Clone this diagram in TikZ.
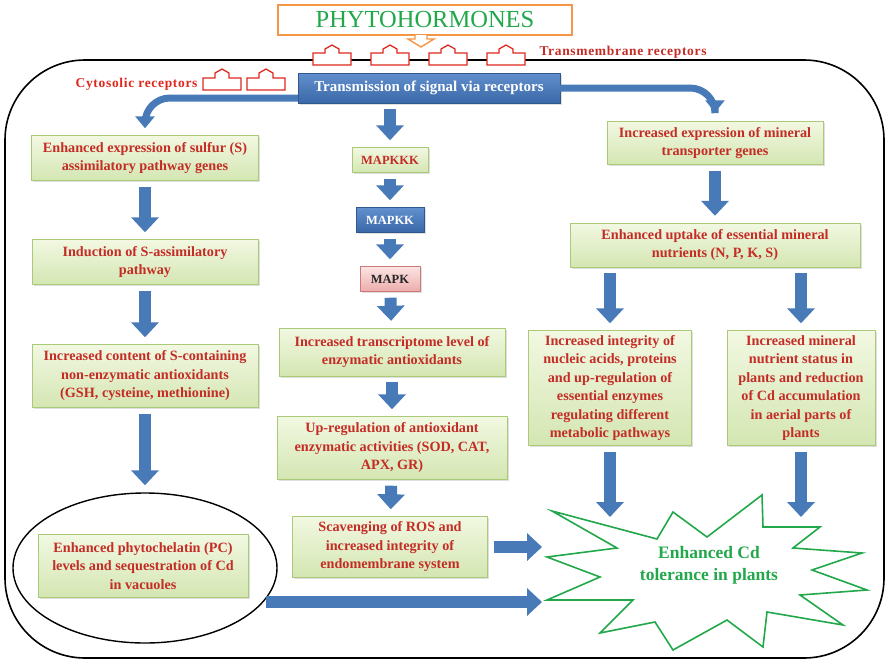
\documentclass[tikz,border=0pt]{standalone}
\usepackage{fontspec}
\setmainfont{Liberation Serif}
\usepackage{xcolor}
\usepackage{tikz}
\usetikzlibrary{arrows.meta,shapes.geometric,shadows,calc}

\definecolor{txtred}{RGB}{196,44,38}
\definecolor{recred}{RGB}{222,40,30}
\definecolor{boxtop}{RGB}{242,248,226}
\definecolor{boxbot}{RGB}{212,230,178}
\definecolor{boxline}{RGB}{170,202,120}
\definecolor{arrblue}{RGB}{72,122,184}
\definecolor{bluetop}{RGB}{98,144,206}
\definecolor{bluebot}{RGB}{58,104,168}
\definecolor{blueline}{RGB}{47,88,140}
\definecolor{pinktop}{RGB}{252,228,228}
\definecolor{pinkbot}{RGB}{236,172,172}
\definecolor{pinkline}{RGB}{206,120,120}
\definecolor{hgreen}{RGB}{34,168,74}
\definecolor{horange}{RGB}{245,150,70}

\tikzset{
  gbox/.style={draw=boxline,top color=boxtop,bottom color=boxbot,text=txtred,align=center,
    inner sep=2pt,font=\fontsize{14.2}{18.5}\selectfont\bfseries,
    drop shadow={opacity=0.25,shadow xshift=1.5pt,shadow yshift=-1.5pt}},
  bbox/.style={gbox,draw=blueline,top color=bluetop,bottom color=bluebot,text=white},
  pbox/.style={gbox,draw=pinkline,top color=pinktop,bottom color=pinkbot,text=black!85},
  kbox/.style={font=\fontsize{12.5}{15}\selectfont\bfseries},
  flow/.style={draw=arrblue,line width=12pt,-{Triangle[width=27pt,length=15pt]},
    shorten <=6pt,shorten >=7pt},
  bendflow/.style={draw=arrblue,line width=7pt,-{Triangle[width=19pt,length=12pt]},
    rounded corners=25pt},
  receptor/.style={draw=recred,line width=1.3pt,fill=white},
  reclabel/.style={text=recred,font=\fontsize{13.5}{15}\selectfont\bfseries},
}

\begin{document}
\begin{tikzpicture}[x=1pt,y=-1pt]
\useasboundingbox (0,0) rectangle (887,662);
\draw[line width=1.6pt,rounded corners=80pt](5,60) rectangle (884,658);

\node[draw=horange,line width=1.6pt,fill=white,minimum width=294pt,minimum height=30pt,
  text=hgreen,font=\fontsize{24.5}{27}\selectfont] (horm) at (425,20) {PHYTOHORMONES};
\draw[draw=horange,line width=1.4pt,fill=white](415,35)--(415,39)--(408,39)--(421,47)--(434,39)--(427,39)--(427,35);

\foreach \x/\y/\h in {332/59/14,390/59/14,448/59/14,506/59/14,222/84/15,266/84/15}
  \draw[receptor](\x-19,\y+6)--(\x+19,\y+6)--(\x+19,\y-6)--(\x+7,\y-6)--(\x+7,\y-\h+4)
    --(\x,\y-\h)--(\x-7,\y-\h+4)--(\x-7,\y-6)--(\x-19,\y-6)--cycle;
\node[reclabel,text=txtred,anchor=west] (tmr) at (536,52) {\addfontfeature{LetterSpace=5}Transmembrane receptors};
\node[reclabel,anchor=east] (cyr) at (201,84) {\addfontfeature{LetterSpace=5}Cytosolic receptors};

\node[bbox,font=\fontsize{15}{18}\selectfont\bfseries,minimum width=262pt,minimum height=30pt] (sig) at (429,88) {Transmission of signal via receptors};

\node[gbox,minimum width=227pt,minimum height=45pt] (l1) at (145,158) {Enhanced expression of sulfur (S)\\assimilatory pathway genes};
\node[gbox,minimum width=226pt,minimum height=45pt] (l2) at (145,262) {Induction of S-assimilatory\\pathway};
\node[gbox,minimum width=226pt,minimum height=63pt] (l3) at (145,376) {Increased content of S-containing\\non-enzymatic antioxidants\\(GSH, cysteine, methionine)};
\node[draw,ellipse,line width=1.4pt,minimum width=264pt,minimum height=150pt] (vac) at (145,568) {};
\node[gbox,minimum width=210pt,minimum height=63pt] (l4) at (143,566) {Enhanced phytochelatin (PC)\\levels and sequestration of Cd\\in vacuoles};

\node[gbox,kbox,minimum width=76pt,minimum height=25pt] (mkkk) at (390,160) {MAPKKK};
\node[bbox,kbox,minimum width=68pt,minimum height=25pt] (mkk) at (390,220) {MAPKK};
\node[pbox,kbox,minimum width=60pt,minimum height=25pt] (mk) at (390,279) {MAPK};
\node[gbox,minimum width=226pt,minimum height=48pt] (m1) at (392,352) {Increased transcriptome level of\\enzymatic antioxidants};
\node[gbox,minimum width=230pt,minimum height=63pt] (m2) at (392,448) {Up-regulation of antioxidant\\enzymatic activities (SOD, CAT,\\APX, GR)};
\node[gbox,minimum width=195pt,minimum height=61pt] (m3) at (390,547) {Scavenging of ROS and\\increased integrity of\\endomembrane system};

\node[gbox,minimum width=216pt,minimum height=43pt] (r1) at (715,143) {Increased expression of mineral\\transporter genes};
\node[gbox,minimum width=290pt,minimum height=44pt] (r2) at (715,245) {Enhanced uptake of essential mineral\\nutrients (N, P, K, S)};
\node[gbox,minimum width=163pt,minimum height=115pt] (r3) at (610,388) {Increased integrity of\\nucleic acids, proteins\\and up-regulation of\\essential enzymes\\regulating different\\metabolic pathways};
\node[gbox,minimum width=148pt,minimum height=115pt] (r4) at (801,388) {Increased mineral\\nutrient status in\\plants and reduction\\of Cd accumulation\\in aerial parts of\\plants};

\draw[hgreen,line width=1.6pt,line join=miter](552,511)--(657,539)--(673,512)--(707,537)--(762,495)--(763,527)
  --(820,527)--(793,548)--(862,553)--(812,570)--(867,590)--(800,595)--(843,625)--(767,612)
  --(763,647)--(727,620)--(673,650)--(655,622)--(600,633)--(633,600)--(547,600)--(600,577)
  --(547,557)--(617,548)--cycle;
\node[text=hgreen,align=center,font=\fontsize{17.5}{22}\selectfont\bfseries] (tol) at (709,565) {Enhanced Cd\\tolerance in plants};
\coordinate (in3) at (542,547);
\coordinate (in4) at (542,601);
\coordinate (top) at (0,517);

\draw[bendflow,shorten >=7pt]($(sig.west)+(0,10)$)-|(l1.north);
\draw[bendflow,shorten >=9pt](sig.east)-|(r1.north);
\draw[flow](l1)--(l2);
\draw[flow](l2)--(l3);
\draw[flow](l3)--(vac);
\draw[flow](sig.south -| mkkk.north)--(mkkk);
\draw[flow](mkkk)--(mkk);
\draw[flow](mkk)--(mk);
\draw[flow](mk)--(m1);
\draw[flow](m1)--(m2);
\draw[flow](m2)--(m3);
\draw[flow](r1)--(r2);
\draw[flow](r2.south -| r3.north)--(r3);
\draw[flow](r2.south -| r4.north)--(r4);
\draw[flow,shorten >=0pt](r3.south)--(r3.south |- top);
\draw[flow,shorten >=0pt](r4.south)--(r4.south |- top);
\draw[flow,shorten >=0pt](m3.east)--(m3.east -| in3);
\draw[flow,shorten <=2pt,shorten >=0pt](vac.-16)--(vac.-16 -| in4);
\end{tikzpicture}
\end{document}
